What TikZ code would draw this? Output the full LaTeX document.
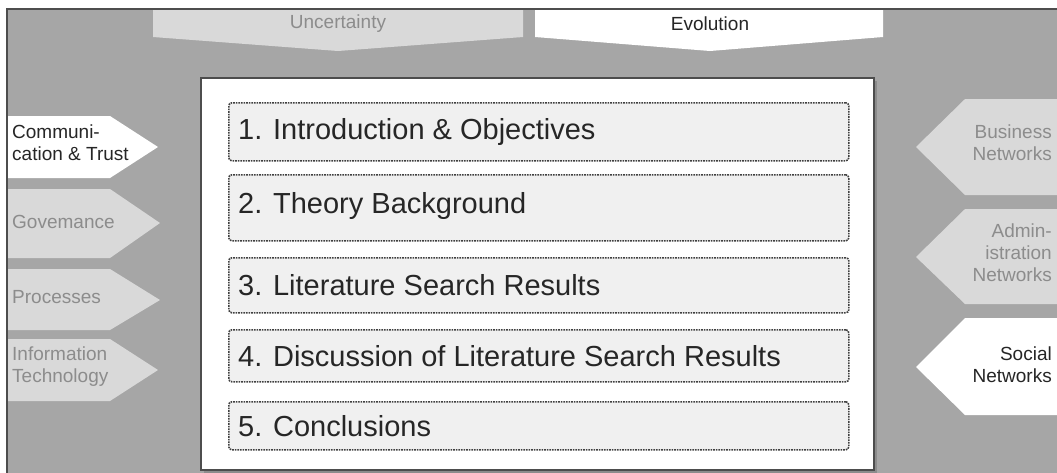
\documentclass[tikz,border=0pt]{standalone}
\usepackage{fontspec}
\setmainfont{Liberation Sans}
\definecolor{panel}{HTML}{A6A6A6}
\definecolor{light}{HTML}{D9D9D9}
\definecolor{dim}{HTML}{8C8C8C}
\definecolor{edge}{HTML}{4D4D4D}
\definecolor{boxfill}{HTML}{F0F0F0}
\definecolor{ink}{HTML}{262626}
\tikzset{
  secbox/.style={draw=black!75, fill=boxfill, densely dotted, line width=1.6pt, rounded corners=3pt,
    minimum width=620pt, anchor=north west, inner sep=0pt},
  sectext/.style={anchor=west, inner sep=0pt, text=ink, font=\fontsize{29}{34}\selectfont},
  lbl/.style={inner sep=0pt, font=\fontsize{19}{22}\selectfont},
  onlight/.style={fill=light},
  onwhite/.style={fill=white},
}
\begin{document}
\begin{tikzpicture}[x=1pt,y=-1pt]
\useasboundingbox (0,0) rectangle (1057,472);
\clip (0,0) rectangle (1057,472);
% panel
\draw[fill=panel, draw=edge, line width=1.5pt] (7,9) rectangle (1065,480);
% top pointers
\fill[onlight] (153,10) -- (523,10) -- (523,37) -- (338,51) -- (153,37) -- cycle;
\fill[onwhite] (535,10) -- (883,10) -- (883,37) -- (710,51) -- (535,37) -- cycle;
\node[lbl, text=dim] (unc) at (338,24) {Uncertainty};
\node[lbl, text=ink] (evo) at (710,24) {Evolution};
% left pointers
\fill[onwhite] (8,116) -- (110,116) -- (158,147) -- (110,178) -- (8,178) -- cycle;
\fill[onlight] (8,189) -- (110,189) -- (160,223) -- (110,258) -- (8,258) -- cycle;
\fill[onlight] (8,269) -- (110,269) -- (160,300) -- (110,330) -- (8,330) -- cycle;
\fill[onlight] (8,339) -- (110,339) -- (158,370) -- (110,401) -- (8,401) -- cycle;
\node[lbl, anchor=west, align=left, text=ink] (comm) at (12,143) {Communi-\\cation \& Trust};
\node[lbl, anchor=west, text=dim] (gov) at (12,222) {Govemance};
\node[lbl, anchor=west, text=dim] (proc) at (12,297) {Processes};
\node[lbl, anchor=west, align=left, text=dim] (it) at (12,367) {Information\\Technology};
% right pointers
\fill[onlight] (1060,99) -- (965,99) -- (916,147) -- (965,195) -- (1060,195) -- cycle;
\fill[onlight] (1060,209) -- (965,209) -- (916,257) -- (965,304) -- (1060,304) -- cycle;
\fill[onwhite] (1060,318) -- (965,318) -- (916,367) -- (965,415) -- (1060,415) -- cycle;
\node[lbl, anchor=east, align=right, text=dim] (bus) at (1052,143) {Business\\Networks};
\node[lbl, anchor=east, align=right, text=dim] (adm) at (1052,253) {Admin-\\istration\\Networks};
\node[lbl, anchor=east, align=right, text=ink] (soc) at (1052,365) {Social\\Networks};
% main box
\fill[black!45] (204,81) rectangle (877,473);
\draw[fill=white, draw=edge, line width=1.5pt] (201,78) rectangle (874,470);
% sections
\node[secbox, minimum height=58pt] (b1) at (228,102) {};
\node[secbox, minimum height=66pt] (b2) at (228,174) {};
\node[secbox, minimum height=55pt] (b3) at (228,257) {};
\node[secbox, minimum height=52pt] (b4) at (228,329) {};
\node[secbox, minimum height=48pt] (b5) at (228,401) {};
\node[sectext] (t1) at ([xshift=10pt]b1.west) {1. Introduction \& Objectives};
\node[sectext] (t2) at ([xshift=10pt,yshift=2pt]b2.west) {2. Theory Background};
\node[sectext] (t3) at ([xshift=10pt]b3.west) {3. Literature Search Results};
\node[sectext] (t4) at ([xshift=10pt]b4.west) {4. Discussion of Literature Search Results};
\node[sectext] (t5) at ([xshift=10pt]b5.west) {5. Conclusions};
\end{tikzpicture}
\end{document}
